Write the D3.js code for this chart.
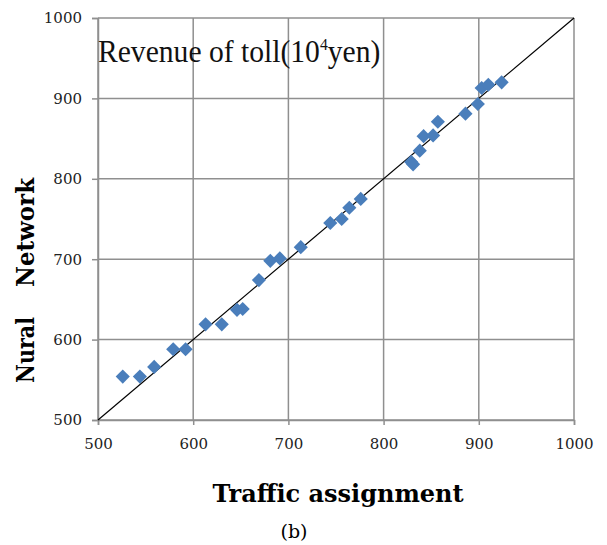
<!DOCTYPE html>
<html>
<head>
<meta charset="utf-8">
<script src="https://cdn.jsdelivr.net/npm/d3@7"></script>
<style>
  body { margin: 0; background: #fff; }
  svg { display: block; }
  .tick text { font-family: "DejaVu Serif", serif; font-size: 15px; fill: #222; }
</style>
</head>
<body>
<svg width="607" height="545"></svg>
<script>
// traffic assignment (x) vs neural network (y), revenue of toll in 10^4 yen
const assigned = [526, 544, 559, 579, 592, 613, 630, 646, 652, 669, 681, 691, 713, 744,
                  756, 764, 776, 829, 831, 838, 842, 852, 857, 886, 899, 903, 910, 924];
const network  = [554, 554, 566, 588, 588, 619, 619, 637, 638, 674, 698, 701, 715, 745,
                  750, 764, 775, 821, 818, 835, 853, 854, 871, 881, 893, 913, 917, 920];
const ticks = [500, 600, 700, 800, 900, 1000];

const svg = d3.select("svg");
const plotLeft = 98, plotRight = 574, plotTop = 18, plotBottom = 420;

const x = d3.scaleLinear().domain([500, 1000]).range([plotLeft, plotRight]);
const y = d3.scaleLinear().domain([500, 1000]).range([plotBottom, plotTop]);

const gridColor = "#8f8f8f";

// grid
svg.append("g")
    .selectAll("line")
    .data(ticks).enter()
    .append("line")
    .attr("x1", d => x(d)).attr("x2", d => x(d))
    .attr("y1", plotTop).attr("y2", plotBottom)
    .attr("stroke", gridColor).attr("stroke-width", 1.5);

svg.append("g")
    .selectAll("line")
    .data(ticks).enter()
    .append("line")
    .attr("x1", plotLeft).attr("x2", plotRight)
    .attr("y1", d => y(d)).attr("y2", d => y(d))
    .attr("stroke", gridColor).attr("stroke-width", 1.5);

var xAxis = d3.axisBottom(x).tickValues(ticks).tickFormat(d3.format("d")).tickSize(5).tickPadding(13);
var yAxis = d3.axisLeft(y).tickValues(ticks).tickFormat(d3.format("d")).tickSize(6).tickPadding(10);

svg.append("g")
    .attr("transform", "translate(0," + plotBottom + ")")
    .call(xAxis)
    .call(g => g.select(".domain").attr("stroke", gridColor).attr("stroke-width", 1.5))
    .call(g => g.selectAll(".tick line").attr("stroke", gridColor).attr("stroke-width", 1.5));

svg.append("g")
    .attr("transform", "translate(" + plotLeft + ",0)")
    .call(yAxis)
    .call(g => g.select(".domain").attr("stroke", gridColor).attr("stroke-width", 1.5))
    .call(g => g.selectAll(".tick line").attr("stroke", gridColor).attr("stroke-width", 1.5));

// y = x reference line
svg.append("line")
    .attr("x1", x(500)).attr("y1", y(500))
    .attr("x2", x(1000)).attr("y2", y(1000))
    .attr("stroke", "#000").attr("stroke-width", 1.2);

// diamond markers
const diamond = d3.symbol().type(d3.symbolSquare).size(100);
svg.append("g")
    .selectAll("path")
    .data(assigned).enter()
    .append("path")
    .attr("d", diamond)
    .attr("transform", (d, i) => "translate(" + x(d) + "," + y(network[i]) + ") rotate(45)")
    .attr("fill", "#4a7ebb");

// texts
const title = svg.append("text")
    .attr("transform", "translate(98,62) scale(0.925,1)")
    .attr("font-family", "Liberation Serif, serif")
    .attr("font-size", 32)
    .attr("fill", "#111");
title.append("tspan").text("Revenue of toll(10");
title.append("tspan").attr("font-size", 17).attr("dy", -12).text("4");
title.append("tspan").attr("dy", 12).text("yen)");

svg.append("text")
    .attr("transform", "translate(34,383) rotate(-90)")
    .attr("font-family", "DejaVu Serif, serif")
    .attr("font-weight", "bold")
    .attr("font-size", 24)
    .attr("textLength", 66)
    .attr("lengthAdjust", "spacingAndGlyphs")
    .text("Nural");

svg.append("text")
    .attr("transform", "translate(34,287) rotate(-90)")
    .attr("font-family", "DejaVu Serif, serif")
    .attr("font-weight", "bold")
    .attr("font-size", 24)
    .attr("textLength", 109)
    .attr("lengthAdjust", "spacingAndGlyphs")
    .text("Network");

svg.append("text")
    .attr("x", 338).attr("y", 502)
    .attr("text-anchor", "middle")
    .attr("font-family", "DejaVu Serif, serif")
    .attr("font-weight", "bold")
    .attr("font-size", 24)
    .text("Traffic assignment");

svg.append("text")
    .attr("x", 294).attr("y", 538)
    .attr("text-anchor", "middle")
    .attr("font-family", "DejaVu Serif, serif")
    .attr("font-size", 19)
    .text("(b)");
</script>
</body>
</html>
